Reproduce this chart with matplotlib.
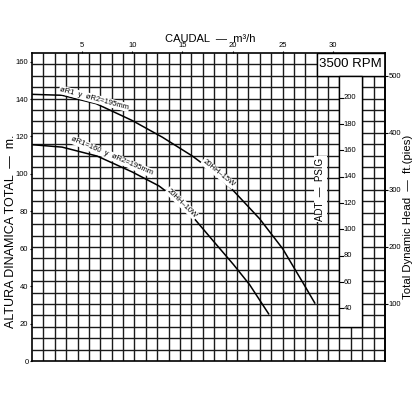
"""Pump performance curve, 20HH series at 3500 RPM."""

import matplotlib
matplotlib.use("Agg")
import matplotlib.pyplot as plt
from matplotlib.patches import Rectangle

plt.rcParams["font.family"] = ["Liberation Sans", "DejaVu Sans"]

# unit conversions
GPM = 0.227125   # m3/h per US gpm
FT = 0.3048      # m per ft
PSI = 0.70307    # m of water per psi

# curve 20HH-15W : flow (m3/h) vs head (m)
q_15w = [0, 3, 6.4, 10, 13, 16, 18, 20, 22.7, 25, 27, 28.2]
h_15w = [142.5, 142, 137.5, 128.5, 119.6, 109.5, 101.5, 91.5, 76, 60, 42, 31]

# curve 20HH-10W
q_10w = [0, 3, 6.5, 10, 12.65, 14.9, 16.2, 18.1, 20.1, 21.7, 23.6]
h_10w = [115.6, 114.3, 109.5, 101, 93.6, 84.5, 76, 64, 51.5, 40.8, 25.2]

flow_ticks = [5, 10, 15, 20, 25, 30]            # m3/h (top)
head_m_ticks = [0, 20, 40, 60, 80, 100, 120, 140, 160]
head_ft_ticks = [100, 200, 300, 400, 500]
psig_ticks = [40, 60, 80, 100, 120, 140, 160, 180, 200]

grid_gpm = list(range(5, 155, 5))
grid_ft = list(range(20, 540, 20))

fig = plt.figure(figsize=(4.16, 4.16), dpi=100)
ax = fig.add_axes([0.0769, 0.1322, 0.8486, 0.7404])

xmax = 155 * GPM
ymax = 540 * FT
ax.set_xlim(0, xmax)
ax.set_ylim(0, ymax)

# grid: every 5 gpm and every 20 ft
ax.vlines([g * GPM for g in grid_gpm], 0, ymax, color="#1a1a1a", lw=1.0, zorder=1)
ax.hlines([f * FT for f in grid_ft], 0, xmax, color="#1a1a1a", lw=1.0, zorder=1)

# curves
ax.plot(q_15w, h_15w, color="black", lw=1.1, zorder=2)
ax.plot(q_10w, h_10w, color="black", lw=1.1, zorder=2)

lbl = dict(fontsize=5.5, ha="center", va="center", zorder=3,
           rotation_mode="anchor",
           bbox=dict(facecolor="white", edgecolor="none", pad=0.6))
ax.text(6.2, 140.2, "øR1  y  øR2=195mm", rotation=-15, **lbl)
ax.text(8.0, 109.3, "øR1=160  y  øR2=195mm", rotation=-23, **lbl)
ax.text(18.6, 100.3, "20HH–15W", rotation=-39, **lbl)
ax.text(14.95, 84.3, "20HH–10W", rotation=-44, **lbl)

# RPM box and PSIG strip
ax.add_patch(Rectangle((125 * GPM, 500 * FT), 30 * GPM, 40 * FT,
                       facecolor="white", edgecolor="black", lw=1.0, zorder=3))
ax.text(140 * GPM, 520 * FT, "3500 RPM", fontsize=9.5, ha="center",
        va="center", zorder=4)
ax.add_patch(Rectangle((135 * GPM, 60 * FT), 10 * GPM, 440 * FT,
                       facecolor="white", edgecolor="black", lw=1.0, zorder=3))
x0 = 135 * GPM
for p in psig_ticks:
    ax.plot([x0, x0 + 0.35], [p * PSI, p * PSI], color="black", lw=0.8, zorder=4)
    ax.text(x0 + 0.4, p * PSI, str(p), fontsize=5.5, ha="left", va="center",
            zorder=4)
ax.text(28.74, 91.8, "ADT  —  PSIG", rotation=90, fontsize=7,
        ha="center", va="center", zorder=4,
        bbox=dict(facecolor="white", edgecolor="none", pad=1.0))

# axes: top flow ticks, left head in m, right head in ft
ax.xaxis.tick_top()
ax.set_xticks(flow_ticks)
ax.set_yticks(head_m_ticks)
ax.tick_params(axis="both", labelsize=5.5, length=1.8, width=0.8, pad=0.8)
for s in ax.spines.values():
    s.set_linewidth(1.2)
    s.set_zorder(5)

sec = ax.secondary_yaxis("right", functions=(lambda m: m / FT, lambda f: f * FT))
sec.set_yticks(head_ft_ticks)
sec.tick_params(labelsize=5.5, length=1.8, width=0.8, pad=0.8)
sec.spines["right"].set_linewidth(1.2)

fig.text(0.505, 0.907, "CAUDAL  —  m³/h", fontsize=8, ha="center", va="center")
fig.text(0.026, 0.445, "ALTURA DINAMICA TOTAL  —  m.", fontsize=9,
         rotation=90, ha="center", va="center")
fig.text(0.981, 0.478, "Total Dynamic Head  —  ft.(pies)", fontsize=8.2,
         rotation=90, ha="center", va="center")

fig.savefig("out.png", dpi=100)
plt.close(fig)
print("Saved: out.png")
